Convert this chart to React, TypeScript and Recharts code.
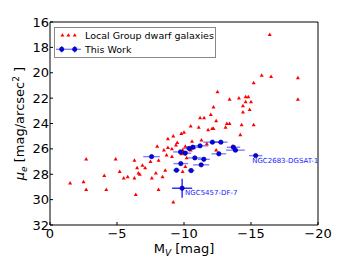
import React from "react"
import { ScatterChart, Scatter, XAxis, YAxis, ErrorBar, Legend } from "recharts"

// Local Group dwarf galaxies: absolute V magnitude and effective surface brightness
const lgMv = [
    -16.4, -15.8, -16.5, -18.5, -18.5, -15.2, -12.5, -13.4, -14.1, -14.6,
    -14.8, -14.6, -15.0, -14.4, -12.2, -14.9, -14.4, -12.0, -11.2, -11.5,
    -12.4, -13.2, -13.4, -14.3, -15.2, -10.5, -11.1, -11.8, -12.1, -12.2,
    -13.1, -10.0, -9.8, -9.2, -8.8, -14.2, -10.6, -11.3, -9.5, -9.4,
    -8.8, -8.0, -8.5, -9.1, -9.9, -10.0, -10.5, -11.7, -12.4, -13.6,
    -8.7, -9.1, -10.2, -8.1, -7.5, -6.3, -4.9, -2.7, -6.9, -6.5,
    -7.1, -5.2, -6.6, -6.7, -8.6, -7.9, -7.6, -8.4, -9.9, -10.1,
    -5.8, -5.5, -6.3, -4.05, -2.5, -1.5, -2.7, -4.2, -6.4, -8.1,
    -9.2, -10.1, -9.8,
]
const lgMu = [
    17.0, 20.2, 20.3, 20.4, 22.1, 20.8, 21.5, 22.1, 22.0, 21.9,
    21.9, 22.3, 22.3, 22.6, 22.7, 22.9, 23.1, 23.3, 23.55, 23.55,
    23.8, 24.0, 24.0, 24.1, 24.1, 24.2, 24.3, 24.5, 24.4, 24.4,
    24.3, 24.7, 24.8, 25.0, 25.2, 24.9, 25.4, 25.3, 25.5, 25.7,
    25.9, 25.8, 26.1, 26.0, 26.1, 26.3, 26.1, 25.6, 26.1, 25.8,
    26.5, 26.6, 26.7, 26.9, 27.0, 26.9, 26.8, 26.8, 27.3, 27.5,
    27.5, 27.8, 27.9, 28.0, 27.7, 27.9, 28.3, 28.2, 27.8, 27.4,
    28.2, 28.3, 28.3, 28.1, 28.6, 28.7, 29.2, 29.2, 29.6, 29.2,
    30.2, 25.8, 26.4,
]

// This Work
const twMv = [-7.58, -9.74, -10.09, -10.39, -10.66, -11.2, -12.12, -12.75, -13.69, -13.84, -15.35, -12.6, -10.81, -11.48, -9.76, -11.28, -9.44, -10.53, -9.86]
const twMu = [26.61, 26.24, 26.34, 25.97, 25.87, 25.76, 25.47, 25.47, 25.87, 26.1, 26.53, 26.39, 26.71, 26.82, 27.16, 27.26, 27.68, 27.71, 29.1]
const twMvErr = [0.62, 0.55, 0.45, 0.5, 0.5, 0.62, 0.68, 0.5, 0.5, 0.7, 0.5, 0.55, 0.5, 0.45, 0.55, 0.6, 0.25, 0.25, 0.75]
const twMuErr = [0.15, 0.15, 0.15, 0.15, 0.15, 0.15, 0.15, 0.15, 0.15, 0.15, 0.15, 0.15, 0.15, 0.15, 0.15, 0.15, 0.15, 0.15, 0.75]
const twName = ["", "", "", "", "", "", "", "", "", "", "NGC2683-DGSAT-1", "", "", "", "", "", "", "", "NGC5457-DF-7"]

const xTicks = [0, -5, -10, -15, -20]
const yTicks = [16, 18, 20, 22, 24, 26, 28, 30, 32]

const lgData = lgMv.map((mv, i) => ({ mv, mu: lgMu[i] }))
const twAll = twMv.map((mv, i) => ({ mv, mu: twMu[i], mvErr: twMvErr[i], muErr: twMuErr[i], name: twName[i] }))
const twData = twAll.filter((d) => d.name !== "NGC5457-DF-7")
const twDF7 = twAll.filter((d) => d.name === "NGC5457-DF-7")

const FONT = "DejaVu Sans"
const labelOffset: Record<string, [number, number]> = {
    "NGC2683-DGSAT-1": [-3.5, 7],
    "NGC5457-DF-7": [3, 7],
}

const minus = (v: number) => (v < 0 ? "\u2212" + Math.abs(v) : String(v))

const Triangle = (props: any) => {
    const { cx, cy } = props
    return <polygon points={`${cx},${cy - 2.1} ${cx - 2},${cy + 1.4} ${cx + 2},${cy + 1.4}`} fill="#ff0000" />
}

const BlueDot = (props: any) => {
    const { cx, cy, payload } = props
    const off = payload && labelOffset[payload.name]
    return (
        <g>
            <circle cx={cx} cy={cy} r={2.2} fill="#0000ff" stroke="#000066" strokeWidth={0.6} />
            {off && (
                <text x={cx + off[0]} y={cy + off[1]} fontSize={7} fontFamily={FONT} fill="#1a1aff">
                    {payload.name}
                </text>
            )}
        </g>
    )
}

const XTitle = (props: any) => {
    const { viewBox } = props
    const x = viewBox.x + viewBox.width / 2
    return (
        <text x={x} y={253} textAnchor="middle" fontSize={13} fontFamily={FONT} fill="#000">
            M<tspan fontSize={9} fontStyle="italic" dy={3}>V</tspan>
            <tspan dy={-3}> [mag]</tspan>
        </text>
    )
}

const YTitle = (props: any) => {
    const { viewBox } = props
    const cy = viewBox.y + viewBox.height / 2
    return (
        <text x={0} y={0} transform={`translate(24, ${cy}) rotate(-90)`} textAnchor="middle" fontSize={13} fontFamily={FONT} fill="#000">
            <tspan fontStyle="italic">μ</tspan>
            <tspan fontSize={9} fontStyle="italic" dy={3}>e</tspan>
            <tspan dy={-3}> [mag/arcsec</tspan>
            <tspan fontSize={9} dy={-5}>2</tspan>
            <tspan dy={5}> ]</tspan>
        </text>
    )
}

const LegendBox = () => (
    <div
        style={{
            width: 162,
            height: 31,
            border: "1px solid #888",
            boxSizing: "border-box",
            background: "#fff",
            position: "relative",
            fontFamily: FONT,
            fontSize: 9.5,
            color: "#000",
        }}
    >
        <svg width={30} height={29} style={{ position: "absolute", left: 0, top: 0 }}>
            {[7.4, 13.4, 19.7].map((x) => (
                <polygon key={x} points={`${x},${5.2} ${x - 2},${8.6} ${x + 2},${8.6}`} fill="#ff0000" />
            ))}
            <line x1={1} y1={21.3} x2={26} y2={21.3} stroke="rgba(0,0,255,0.5)" strokeWidth={1.4} />
            {[6.7, 19.7].map((x) => (
                <g key={x}>
                    <line x1={x} y1={18} x2={x} y2={24.6} stroke="rgba(0,0,255,0.5)" strokeWidth={1.4} />
                    <circle cx={x} cy={21.3} r={2.2} fill="#0000ff" stroke="#000066" strokeWidth={0.6} />
                </g>
            ))}
        </svg>
        <div style={{ position: "absolute", left: 30, top: 1, lineHeight: "13px", whiteSpace: "nowrap" }}>
            Local Group dwarf galaxies
        </div>
        <div style={{ position: "absolute", left: 30, top: 15, lineHeight: "13px", whiteSpace: "nowrap" }}>
            This Work
        </div>
    </div>
)

const tickStyle = { fontSize: 13, fill: "#000", fontFamily: FONT }

export default function App() {
    return (
        <div style={{ position: "absolute", left: 0, top: 0, width: 340, height: 272, background: "#fff" }}>
            <ScatterChart width={340} height={272} margin={{ top: 21, right: 21, bottom: 17, left: 10 }}>
                <XAxis
                    dataKey="mv"
                    type="number"
                    domain={[-20, 0]}
                    reversed
                    allowDataOverflow
                    ticks={xTicks}
                    tickFormatter={minus}
                    height={30}
                    tickSize={-3}
                    tickMargin={7}
                    tick={tickStyle}
                    axisLine={{ stroke: "#000" }}
                    tickLine={{ stroke: "#000" }}
                    label={<XTitle />}
                />
                <XAxis
                    xAxisId="top"
                    orientation="top"
                    type="number"
                    domain={[-20, 0]}
                    reversed
                    allowDataOverflow
                    ticks={xTicks}
                    height={1}
                    tickSize={-3}
                    tick={false}
                    axisLine={{ stroke: "#000" }}
                    tickLine={{ stroke: "#000" }}
                />
                <YAxis
                    dataKey="mu"
                    type="number"
                    domain={[16, 32]}
                    reversed
                    allowDataOverflow
                    ticks={yTicks}
                    width={40}
                    tickSize={-3}
                    tickMargin={4}
                    tick={tickStyle}
                    axisLine={{ stroke: "#000" }}
                    tickLine={{ stroke: "#000" }}
                    label={<YTitle />}
                />
                <YAxis
                    yAxisId="right"
                    orientation="right"
                    type="number"
                    domain={[16, 32]}
                    reversed
                    allowDataOverflow
                    ticks={yTicks}
                    width={1}
                    tickSize={-3}
                    tick={false}
                    axisLine={{ stroke: "#000" }}
                    tickLine={{ stroke: "#000" }}
                />
                <Legend
                    layout="horizontal"
                    verticalAlign="middle"
                    align="center"
                    wrapperStyle={{ left: 54, top: 27, width: "auto" }}
                    content={<LegendBox />}
                />
                <Scatter name="Local Group dwarf galaxies" data={lgData} shape={<Triangle />} isAnimationActive={false} />
                <Scatter name="This Work" data={twData} shape={<BlueDot />} isAnimationActive={false}>
                    <ErrorBar dataKey="mvErr" direction="x" width={0} stroke="rgba(0,0,255,0.5)" strokeWidth={1.4} />
                    <ErrorBar dataKey="muErr" direction="y" width={0} stroke="rgba(0,0,255,0.5)" strokeWidth={1.4} />
                </Scatter>
                <Scatter name="This Work DF-7" data={twDF7} shape={<BlueDot />} isAnimationActive={false}>
                    <ErrorBar dataKey="mvErr" direction="x" width={0} stroke="#0000ff" strokeWidth={1.2} />
                    <ErrorBar dataKey="muErr" direction="y" width={0} stroke="#0000ff" strokeWidth={1.2} />
                </Scatter>
            </ScatterChart>
        </div>
    )
}
